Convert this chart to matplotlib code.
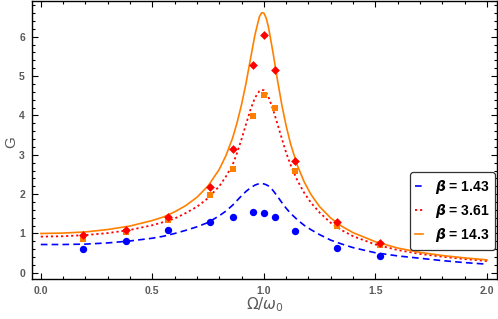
import numpy as np
import matplotlib
matplotlib.use("Agg")
import matplotlib.pyplot as plt
from matplotlib.ticker import MultipleLocator, FormatStrFormatter

# ===== data =====
x_curve = [0.0, 0.1, 0.2, 0.3, 0.4, 0.5, 0.55, 0.6, 0.65, 0.7, 0.75, 0.8, 0.83, 0.86,
           0.88, 0.9, 0.92, 0.94, 0.96, 0.98, 0.99, 1.0, 1.01, 1.02, 1.04, 1.06, 1.08,
           1.1, 1.12, 1.15, 1.18, 1.21, 1.25, 1.3, 1.35, 1.4, 1.5, 1.6, 1.7, 1.8, 1.9, 2.0]
g_b143 = [0.72, 0.72, 0.73, 0.76, 0.81, 0.88, 0.93, 1.00, 1.08, 1.17, 1.28, 1.45, 1.57, 1.72,
          1.84, 1.96, 2.07, 2.16, 2.23, 2.27, 2.27, 2.26, 2.24, 2.21, 2.10, 1.95, 1.79,
          1.64, 1.51, 1.35, 1.21, 1.10, 0.97, 0.83, 0.73, 0.64, 0.51, 0.43, 0.37, 0.31, 0.26, 0.22]
g_b361 = [0.92, 0.93, 0.96, 1.01, 1.09, 1.21, 1.29, 1.38, 1.52, 1.68, 1.90, 2.20, 2.45, 2.75,
          3.05, 3.40, 3.78, 4.15, 4.45, 4.62, 4.65, 4.64, 4.58, 4.48, 4.17, 3.80, 3.42,
          3.05, 2.74, 2.35, 2.04, 1.79, 1.53, 1.27, 1.08, 0.93, 0.72, 0.58, 0.48, 0.41, 0.35, 0.30]
g_b14 = [1.00, 1.01, 1.04, 1.10, 1.19, 1.33, 1.42, 1.55, 1.71, 1.92, 2.21, 2.63, 2.98, 3.43,
         3.82, 4.28, 4.82, 5.44, 6.05, 6.51, 6.61, 6.60, 6.48, 6.26, 5.63, 4.93, 4.28,
         3.73, 3.27, 2.73, 2.32, 2.00, 1.68, 1.39, 1.18, 1.02, 0.79, 0.63, 0.52, 0.44, 0.38, 0.33]

x_data = [0.19, 0.38, 0.57, 0.76, 0.86, 0.95, 1.0, 1.05, 1.14, 1.33, 1.52]
d_b143 = [0.61, 0.81, 1.10, 1.30, 1.42, 1.54, 1.52, 1.41, 1.07, 0.64, 0.43]
d_b361 = [0.87, 1.04, 1.35, 1.98, 2.65, 3.99, 4.53, 4.20, 2.60, 1.20, 0.72]
d_b14 = [0.95, 1.08, 1.42, 2.19, 3.14, 5.28, 6.05, 5.15, 2.85, 1.30, 0.76]

labels = [r"$\boldsymbol{\beta}$ = 1.43", r"$\boldsymbol{\beta}$ = 3.61",
          r"$\boldsymbol{\beta}$ = 14.3"]

BLUE = "#0000ff"
RED = "#ff0000"
ORANGE = "#ff8000"
GRAY = "#5a5a5a"

# ===== plot =====
plt.rcParams["font.family"] = ["Liberation Sans", "DejaVu Sans"]
plt.rcParams["mathtext.fontset"] = "dejavusans"

fig = plt.figure(figsize=(4.98, 3.19), dpi=100)
ax = fig.add_axes([0.064, 0.125, 0.934, 0.872])

ax.plot(x_curve, g_b143, color=BLUE, lw=1.2, dashes=(4, 2.5), label=labels[0], zorder=2)
ax.plot(x_curve, g_b361, color=RED, lw=1.3, dashes=(1.2, 1.6), label=labels[1], zorder=2)
ax.plot(x_curve, g_b14, color=ORANGE, lw=1.2, label=labels[2], zorder=2)

ax.scatter(x_data, d_b143, s=28, color=BLUE, marker="o", lw=0, zorder=3)
ax.scatter(x_data, d_b361, s=14, color=ORANGE, marker="s", lw=0, zorder=3)
ax.scatter(x_data, d_b14, s=20, color=RED, marker="D", lw=0, zorder=4)

ax.set_xlim(-0.04, 2.045)
ax.set_ylim(-0.16, 6.91)

ax.xaxis.set_major_locator(MultipleLocator(0.5))
ax.xaxis.set_minor_locator(MultipleLocator(0.1))
ax.yaxis.set_major_locator(MultipleLocator(1))
ax.yaxis.set_minor_locator(MultipleLocator(0.2))
ax.xaxis.set_major_formatter(FormatStrFormatter("%.1f"))

ax.tick_params(which="both", direction="in", top=True, right=True,
               colors="black", labelcolor=GRAY, labelsize=7.5, width=0.8)
ax.tick_params(which="major", length=4.5, pad=5)
ax.tick_params(which="minor", length=2.5)
for lab in ax.get_xticklabels() + ax.get_yticklabels():
    lab.set_fontweight("bold")
for sp in ax.spines.values():
    sp.set_linewidth(1.0)

fig.text(265 / 498, 1 - 305 / 319, r"$\Omega/\omega_0$", color=GRAY, fontsize=11,
         ha="center", va="center")
fig.text(11 / 498, 1 - 142 / 319, "G", color=GRAY, fontsize=11, rotation=90,
         ha="center", va="center")

leg = ax.legend(loc="upper right", bbox_to_anchor=(495 / 498, 1 - 172 / 319),
                bbox_transform=fig.transFigure,
                prop={"weight": "bold", "size": 10}, handlelength=0.55,
                handletextpad=0.85, labelspacing=0.45, borderpad=0.4,
                borderaxespad=0, fancybox=True, framealpha=1, edgecolor="#333333")
leg.get_frame().set_linewidth(0.9)

fig.savefig("out.png", dpi=100)
